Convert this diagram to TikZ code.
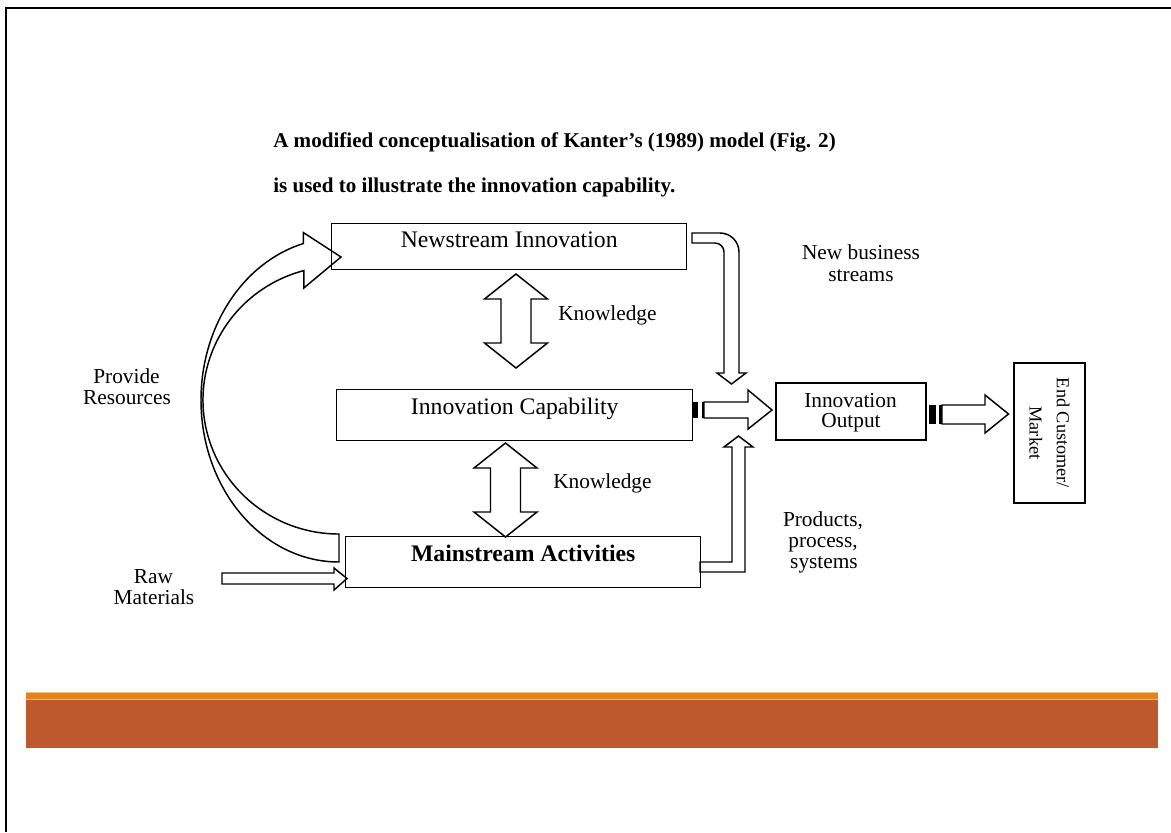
\documentclass[tikz,border=0pt]{standalone}
\usepackage{fontspec}
\setmainfont{Liberation Serif}
\definecolor{stripe}{HTML}{E5831B}
\definecolor{stripehi}{HTML}{F3BE86}
\definecolor{band}{HTML}{BE592D}
\tikzset{
  box/.style={draw, line width=1.1pt, inner sep=0pt},
  boxtext/.style={font=\fontsize{17.8}{21}\selectfont},
  lbl/.style={font=\fontsize{16}{19}\selectfont, inner sep=0pt, anchor=base},
  ttl/.style={font=\bfseries\fontsize{15.8}{19}\selectfont, inner sep=0pt, anchor=base west},
  blk/.style={draw, line width=1.1pt, fill=white, line join=miter},
}
\begin{document}
\begin{tikzpicture}[x=0.75pt,y=-0.75pt]
\useasboundingbox (0,0) rectangle (1171,832);

% slide frame and footer band
\draw[line width=1.7pt] (6,832) -- (6,7.8) -- (1171,7.8);
\fill[stripehi] (26,691.5) rectangle (1158,700);
\fill[stripe] (26,692.8) rectangle (1158,699);
\fill[band] (26,700) rectangle (1158,748);

% heading
\node[ttl] (t1) at (273,147) {A modified conceptualisation of Kanter’s (1989) model (Fig. 2)};
\node[ttl] (t2) at (273,192) {is used to illustrate the innovation capability.};

% block arrows (drawn first, boxes go on top)
% knowledge exchange, newstream <-> capability
\draw[blk] (516,274) -- (547.5,299) -- (531,299) -- (531,343) -- (547.5,343) -- (516,368)
  -- (484.5,343) -- (501,343) -- (501,299) -- (484.5,299) -- cycle;
% knowledge exchange, capability <-> mainstream
\draw[blk] (505.5,443) -- (537,468) -- (520.5,468) -- (520.5,512) -- (537,512) -- (505.5,537)
  -- (474,512) -- (490.5,512) -- (490.5,468) -- (474,468) -- cycle;
% curved arrow: resources from mainstream to newstream
\draw[blk] (339,562) arc[start angle=90, end angle=255, x radius=138, y radius=162]
  -- ++(0,-11) -- (341,257) -- (303.8,288) -- (303.8,270.6)
  arc[start angle=255, end angle=90, x radius=136, y radius=134] -- cycle;
% raw materials
\draw[blk] (222,573) -- (334,573) -- (334,568) -- (347,578.5) -- (334,590) -- (334,584) -- (222,584) -- cycle;
% new business streams: bent arrow down to output
\draw[blk] (692,233) -- (720,233) arc[start angle=270, end angle=360, radius=19]
  -- (739,373) -- (746,373) -- (731.5,384) -- (717,373) -- (724,373) -- (724,252)
  arc[start angle=0, end angle=-90, radius=9] -- (692,243) -- cycle;
% products, process, systems: bent arrow up to output
\draw[blk] (700,562) -- (732,562) -- (732,447) -- (724,447) -- (738.5,436) -- (753,447)
  -- (745,447) -- (745,572) -- (700,572) -- cycle;
% striped arrow: capability to output
\draw[blk] (704,402) -- (748,402) -- (748,390) -- (772,410) -- (748,429) -- (748,418) -- (704,418) -- cycle;
\fill (692,402) rectangle (698,418);
\fill (701.5,402) rectangle (704,418);
% striped arrow: output to end customer
\draw[blk] (942,405) -- (985,405) -- (985,395) -- (1008.5,414) -- (985,433) -- (985,424) -- (942,424) -- cycle;
\fill (929,405) rectangle (936,424);
\fill (939,405) rectangle (942,424);

% boxes
\node[box, boxtext, anchor=north west, minimum width=266.25pt, text height=18pt, text depth=16.5pt]
  (ns) at (331,223) {Newstream Innovation};
\node[box, boxtext, anchor=north west, minimum width=267pt, text height=18.75pt, text depth=19.5pt]
  (ic) at (336,389) {Innovation Capability};
\node[box, boxtext, anchor=north west, minimum width=266.25pt, text height=18.75pt, text depth=19.5pt, font=\bfseries\fontsize{17.8}{21}\selectfont]
  (ma) at (345,536) {Mainstream Activities};
\node[box, minimum width=112.5pt, minimum height=42.75pt] (out) at (851,411.5) {};
\node[box, minimum width=53.25pt, minimum height=105pt] (ec) at (1049.5,433) {};

% texts
\node[lbl] (o1) at (850.5,407) {Innovation};
\node[lbl] (o2) at (851,427) {Output};
\node[rotate=-90, align=center, inner sep=0pt, font=\fontsize{13.7}{20.3}\selectfont] (ect) at (ec.center) {End Customer/\\Market};
\node[lbl, anchor=base west] (k1) at (558,320) {Knowledge};
\node[lbl, anchor=base west] (k2) at (553,488) {Knowledge};
\node[lbl] (nb1) at (861,259) {New business};
\node[lbl] (nb2) at (861,281) {streams};
\node[lbl] (pr1) at (126.5,383) {Provide};
\node[lbl] (pr2) at (127,404) {Resources};
\node[lbl] (rm1) at (153.5,583) {Raw};
\node[lbl] (rm2) at (154,604) {Materials};
\node[lbl] (pp1) at (823,526) {Products,};
\node[lbl] (pp2) at (823,547) {process,};
\node[lbl] (pp3) at (824,568) {systems};
\end{tikzpicture}
\end{document}
